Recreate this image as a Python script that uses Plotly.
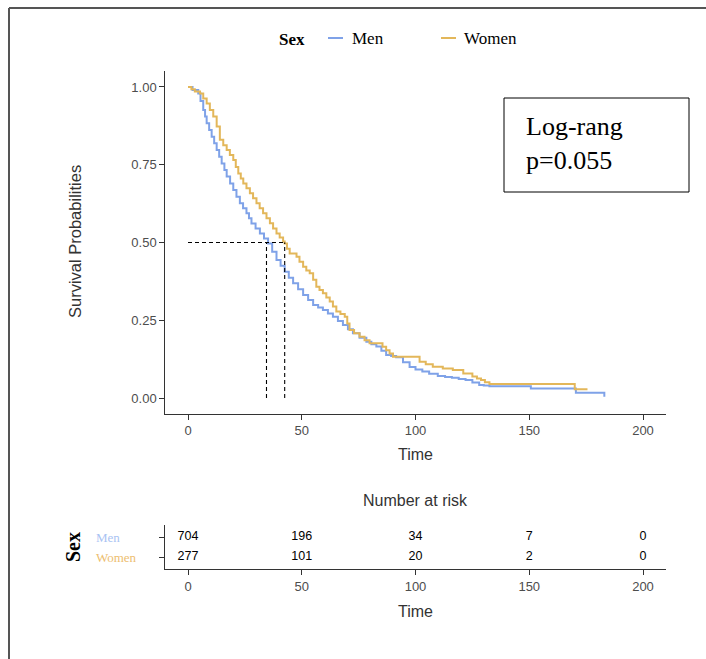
import plotly.graph_objects as go

# ---------------- data ----------------
men_t = [0, 2, 4.5, 5.5, 6.7, 7.5, 8.2, 9.3, 10.4, 11.5, 12.6, 13.7, 14.8, 16, 17, 18.5, 19.9, 21.3,
         22.8, 24.2, 25.7, 26.8, 27.9, 29.7, 31.6, 33.4, 35.2, 37, 38.9, 40.7, 42.5, 44.3, 46.2, 48.4,
         50.6, 52.8, 55, 57.2, 59.3, 61.5, 63.7, 65.9, 68.1, 70.3, 72.5, 75.4, 78.4, 80.6, 82.8, 85,
         87.1, 89.3, 91.5, 94.5, 97.4, 100, 103, 106, 109.8, 113, 116, 119, 122, 125, 128, 130, 132.5,
         150.7, 170.5, 183]
men_s = [1.0, 0.99, 0.979, 0.955, 0.926, 0.905, 0.883, 0.862, 0.840, 0.819, 0.797, 0.776, 0.754, 0.733,
         0.712, 0.690, 0.669, 0.647, 0.626, 0.610, 0.594, 0.578, 0.561, 0.545, 0.529, 0.513, 0.497, 0.470,
         0.444, 0.425, 0.406, 0.387, 0.369, 0.350, 0.331, 0.315, 0.299, 0.291, 0.283, 0.272, 0.261, 0.248,
         0.235, 0.221, 0.208, 0.194, 0.181, 0.173, 0.166, 0.152, 0.138, 0.135, 0.131, 0.115, 0.100, 0.092,
         0.085, 0.078, 0.071, 0.068, 0.065, 0.061, 0.058, 0.050, 0.042, 0.040, 0.038, 0.031, 0.017, 0.004]

women_t = [0, 1.5, 3, 5.3, 6.7, 8.2, 9.6, 11.1, 12.6, 14, 15.5, 17, 18.4, 19.9, 21, 22.1, 23.2, 24.3,
           25.7, 27.2, 28.6, 30.1, 31.5, 33, 34.5, 36, 37.4, 38.9, 40.3, 41.8, 42.5, 43.5, 44.7, 47.7, 49,
           50.6, 52, 53.5, 55, 56.4, 57.8, 59.3, 60.8, 62.3, 63.7, 65.2, 67, 68.9, 70, 71, 73, 75.4, 77.6,
           79.8, 85.5, 87.1, 88.6, 90.1, 101.8, 104.5, 107.6, 112, 116.4, 121, 125, 127, 128.8, 130.5,
           132.5, 170, 175.6]
women_s = [1.0, 0.993, 0.985, 0.979, 0.963, 0.947, 0.926, 0.905, 0.873, 0.83, 0.813, 0.797, 0.781, 0.765,
           0.743, 0.722, 0.706, 0.69, 0.674, 0.658, 0.642, 0.626, 0.61, 0.594, 0.578, 0.562, 0.545, 0.529,
           0.516, 0.503, 0.497, 0.48, 0.465, 0.454, 0.438, 0.422, 0.41, 0.401, 0.38, 0.358, 0.347, 0.337,
           0.323, 0.31, 0.294, 0.278, 0.27, 0.261, 0.24, 0.219, 0.208, 0.197, 0.186, 0.176, 0.165, 0.154,
           0.143, 0.133, 0.117, 0.109, 0.101, 0.095, 0.09, 0.079, 0.069, 0.063, 0.058, 0.051, 0.045, 0.028,
           0.028]

median_men = 34.5
median_women = 42.5

risk_times = [0, 50, 100, 150, 200]
risk_men = [704, 196, 34, 7, 0]
risk_women = [277, 101, 20, 2, 0]

x_ticks = [0, 50, 100, 150, 200]
y_ticks = [0, 0.25, 0.5, 0.75, 1.0]
y_ticklabels = ["0.00", "0.25", "0.50", "0.75", "1.00"]

groups = ["Men", "Women"]
colors = {"Men": "#7FA2E8", "Women": "#E3B75A"}
label_colors = {"Men": "#A9C3F3", "Women": "#EDBE70"}
pvalue_text = "Log-rang<br>p=0.055"

# ---------------- figure ----------------
W, H = 706, 659
SANS = "Liberation Sans, Arial, sans-serif"
SERIF = "Liberation Serif, Times New Roman, serif"

def px(x):
    return x / W

def py(y):
    return (H - y) / H

fig = go.Figure()

fig.add_trace(go.Scatter(x=men_t, y=men_s, mode="lines", line=dict(color=colors["Men"], width=2, shape="hv"),
                         showlegend=False, xaxis="x", yaxis="y"))
fig.add_trace(go.Scatter(x=women_t, y=women_s, mode="lines", line=dict(color=colors["Women"], width=2, shape="hv"),
                         showlegend=False, xaxis="x", yaxis="y"))

# median lines
dash = dict(color="black", width=1.1, dash="4px,3px")
fig.add_trace(go.Scatter(x=[0, max(median_men, median_women)], y=[0.5, 0.5], mode="lines", line=dash,
                         showlegend=False, hoverinfo="skip"))
for m in [median_men, median_women]:
    fig.add_trace(go.Scatter(x=[m, m], y=[0, 0.5], mode="lines", line=dash, showlegend=False, hoverinfo="skip"))

# risk table
fig.add_trace(go.Scatter(x=risk_times, y=[2] * len(risk_times), mode="text",
                         text=[str(v) for v in risk_men], textfont=dict(family=SANS, size=12.5, color="black"),
                         showlegend=False, xaxis="x2", yaxis="y2"))
fig.add_trace(go.Scatter(x=risk_times, y=[1] * len(risk_times), mode="text",
                         text=[str(v) for v in risk_women], textfont=dict(family=SANS, size=12.5, color="black"),
                         showlegend=False, xaxis="x2", yaxis="y2"))

xdom = [px(165.25), px(665.75)]
axis_common = dict(showline=True, linecolor="#333333", linewidth=1, ticks="outside", ticklen=5,
                   tickcolor="#333333", showgrid=False, zeroline=False,
                   tickfont=dict(family=SANS, size=13, color="#4D4D4D"))

fig.update_layout(
    width=W, height=H,
    margin=dict(l=0, r=0, t=0, b=0),
    paper_bgcolor="white", plot_bgcolor="white",
    xaxis=dict(domain=xdom, range=[-10, 210], tickvals=x_ticks, anchor="y", **axis_common),
    yaxis=dict(domain=[py(413.6), py(71.4)], range=[-0.05, 1.05], tickvals=y_ticks,
               ticktext=y_ticklabels, anchor="x", **axis_common),
    xaxis2=dict(domain=xdom, range=[-10, 210], tickvals=x_ticks, anchor="y2", **axis_common),
    yaxis2=dict(domain=[py(569), py(525)], range=[0.4, 2.6], tickvals=[1, 2],
                ticktext=["", ""], anchor="x2", **axis_common),
)

def note(text, x, y, size, family=SANS, color="#333333", **kw):
    d = dict(text=text, x=px(x), y=py(y), xref="paper", yref="paper", showarrow=False,
             xanchor="center", yanchor="middle", font=dict(family=family, size=size, color=color))
    d.update(kw)
    return d

ann = []
# axis titles
ann.append(note("Time", 415, 454, 16))
ann.append(note("Survival Probabilities", 75, 242, 16.5, textangle=-90))
ann.append(note("Number at risk", 415, 500, 16))
ann.append(note("Time", 415, 611, 16))
# risk table labels
ann.append(note("<b>Sex</b>", 73, 547, 20, family=SERIF, color="black", textangle=-90))
ann.append(dict(text="Men", x=px(94), y=2, xref="paper", yref="y2", xanchor="left", yanchor="middle",
                showarrow=False, font=dict(family=SERIF, size=13, color=label_colors["Men"])))
ann.append(dict(text="Women", x=px(94), y=1, xref="paper", yref="y2", xanchor="left", yanchor="middle",
                showarrow=False, font=dict(family=SERIF, size=13, color=label_colors["Women"])))
# p-value box
ann.append(dict(text=pvalue_text, x=px(524), y=py(110), xref="paper", yref="paper", xanchor="left",
                yanchor="top", align="left", showarrow=False,
                font=dict(family=SERIF, size=26, color="black")))
# legend
ann.append(note("<b>Sex</b>", 307, 39, 17, family=SERIF, color="black", xanchor="right"))
ann.append(note("Men", 350, 38, 17, family=SERIF, color="black", xanchor="left"))
ann.append(note("Women", 462, 38, 17, family=SERIF, color="black", xanchor="left"))
fig.update_layout(annotations=ann)

shapes = []
# legend keys
shapes.append(dict(type="line", xref="paper", yref="paper", x0=px(328), x1=px(343), y0=py(38), y1=py(38),
                   line=dict(color=colors["Men"], width=2)))
shapes.append(dict(type="line", xref="paper", yref="paper", x0=px(441), x1=px(456), y0=py(38), y1=py(38),
                   line=dict(color=colors["Women"], width=2)))
# p-value box
shapes.append(dict(type="rect", xref="paper", yref="paper", x0=px(504), x1=px(689), y0=py(192), y1=py(98),
                   line=dict(color="black", width=1)))
# outer frame (partial)
shapes.append(dict(type="line", xref="paper", yref="paper", x0=px(9), x1=px(9), y0=0, y1=py(8),
                   line=dict(color="#555555", width=2)))
shapes.append(dict(type="line", xref="paper", yref="paper", x0=px(9), x1=1, y0=py(8), y1=py(8),
                   line=dict(color="#555555", width=2)))
fig.update_layout(shapes=shapes)

fig.write_html("out.html")
